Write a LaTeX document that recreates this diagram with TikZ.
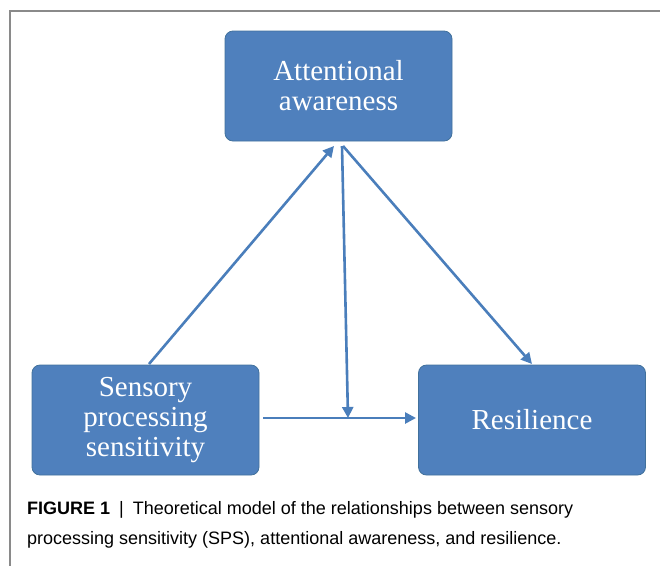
\documentclass[tikz,border=0pt]{standalone}
\usepackage{fontspec}
\setmainfont{Liberation Serif}
\newfontfamily\capfont{Liberation Sans}
\usetikzlibrary{arrows.meta}
\definecolor{boxblue}{HTML}{4F80BD}
\definecolor{boxedge}{HTML}{41719C}
\definecolor{arrblue}{HTML}{4A7EBB}
\definecolor{framegray}{HTML}{8A8A8A}
\tikzset{
  box/.style={draw=boxedge, line width=0.8pt, fill=boxblue, rounded corners=8pt,
    minimum width=227pt, minimum height=110pt, align=center, text=white,
    font=\fontsize{29}{30}\selectfont, inner sep=0pt},
  conn/.style={draw=arrblue, line width=2.6pt, -{Triangle[length=11pt,width=11pt]}},
  capt/.style={anchor=north west, align=left, inner sep=0pt, font=\capfont\fontsize{18}{30}\selectfont, text=black}
}
\begin{document}
\begin{tikzpicture}[x=1pt,y=-1pt]
\useasboundingbox (0,0) rectangle (660,566);
\draw[framegray, line width=1.2pt] (660,11) -- (10,11) -- (10,566);
\node[box] (aa) at (338.5,86) {Attentional\\awareness};
\node[box] (sps) at (145.5,420) {Sensory\\processing\\sensitivity};
\node[box] (res) at (532,420) {Resilience};
\coordinate (m) at (348,418);
\coordinate (hs) at (263,418);
\coordinate (he) at (416,418);
\draw[conn] (149,364) -- (334,146);
\draw[conn] (342,146) -- (m);
\draw[conn] (hs) -- (he);
\draw[conn] (343,146) -- (532,364);
\node[capt] (cap) at (27,501) {\textbf{FIGURE 1}\enspace|\enspace Theoretical model of the relationships between sensory\\processing sensitivity (SPS), attentional awareness, and resilience.};
\end{tikzpicture}
\end{document}
